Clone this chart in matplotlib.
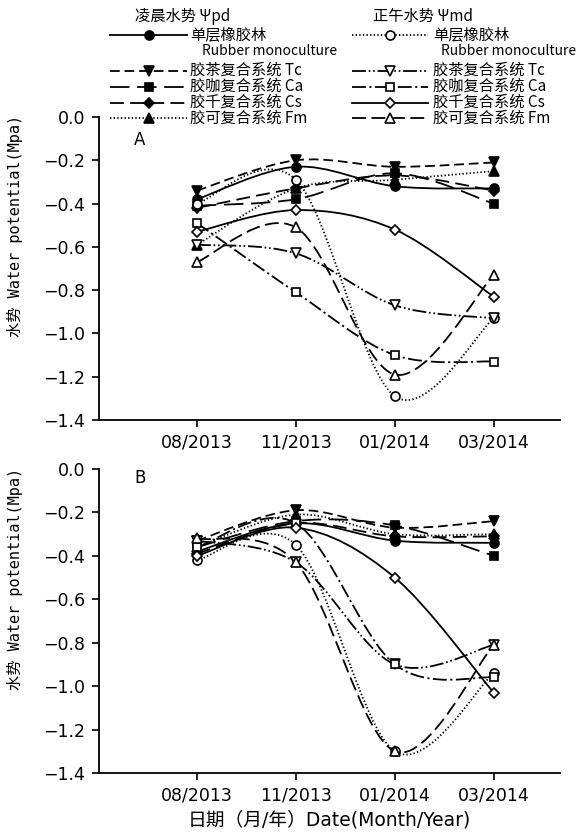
import matplotlib
matplotlib.use("Agg")
import matplotlib.pyplot as plt
from matplotlib.path import Path
from matplotlib.patches import PathPatch

plt.rcParams["lines.scale_dashes"] = False

dates = ["08/2013", "11/2013", "01/2014", "03/2014"]

# panel A, predawn (filled markers)
a_pd_mono = [-0.38, -0.23, -0.32, -0.33]
a_pd_tc = [-0.34, -0.20, -0.23, -0.21]
a_pd_ca = [-0.41, -0.38, -0.26, -0.40]
a_pd_cs = [-0.42, -0.33, -0.27, -0.34]
a_pd_fm = [-0.59, -0.33, -0.29, -0.25]
# panel A, midday (open markers)
a_md_mono = [-0.40, -0.29, -1.29, -0.93]
a_md_tc = [-0.59, -0.63, -0.87, -0.93]
a_md_ca = [-0.49, -0.81, -1.10, -1.13]
a_md_cs = [-0.53, -0.43, -0.52, -0.83]
a_md_fm = [-0.67, -0.51, -1.19, -0.73]

# panel B, predawn
b_pd_mono = [-0.38, -0.25, -0.33, -0.34]
b_pd_tc = [-0.33, -0.19, -0.27, -0.24]
b_pd_ca = [-0.36, -0.24, -0.26, -0.40]
b_pd_cs = [-0.39, -0.25, -0.31, -0.31]
b_pd_fm = [-0.36, -0.21, -0.30, -0.30]
# panel B, midday
b_md_mono = [-0.42, -0.35, -1.30, -0.94]
b_md_tc = [-0.33, -0.43, -0.90, -0.81]
b_md_ca = [-0.36, -0.25, -0.90, -0.96]
b_md_cs = [-0.40, -0.27, -0.50, -1.03]
b_md_fm = [-0.32, -0.43, -1.30, -0.81]

# line style and marker for each series: (linestyle, marker, filled)
styles = {
    "pd_mono": ("-", "o", True),
    "pd_tc": ((0, (7, 3.5)), "v", True),
    "pd_ca": ((0, (14, 5.5)), "s", True),
    "pd_cs": ((0, (10, 4.5)), "D", True),
    "pd_fm": ((0, (1, 1.6)), "^", True),
    "md_mono": ((0, (1, 1.6)), "o", False),
    "md_tc": ((0, (10, 2, 1.2, 2, 1.2, 2)), "v", False),
    "md_ca": ((0, (10, 2.5, 1.5, 2.5)), "s", False),
    "md_cs": ("-", "D", False),
    "md_fm": ((0, (10, 4)), "^", False),
}
msize = {"o": 6.5, "v": 6.5, "^": 6.5, "s": 5.5, "D": 5.0}

labels_cn = ["单层橡胶林", "胶茶复合系统 Tc", "胶咖复合系统 Ca", "胶千复合系统 Cs", "胶可复合系统 Fm"]
keys = ["mono", "tc", "ca", "cs", "fm"]

panel_a = {
    "pd_mono": a_pd_mono, "pd_tc": a_pd_tc, "pd_ca": a_pd_ca, "pd_cs": a_pd_cs, "pd_fm": a_pd_fm,
    "md_mono": a_md_mono, "md_tc": a_md_tc, "md_ca": a_md_ca, "md_cs": a_md_cs, "md_fm": a_md_fm,
}
panel_b = {
    "pd_mono": b_pd_mono, "pd_tc": b_pd_tc, "pd_ca": b_pd_ca, "pd_cs": b_pd_cs, "pd_fm": b_pd_fm,
    "md_mono": b_md_mono, "md_tc": b_md_tc, "md_ca": b_md_ca, "md_cs": b_md_cs, "md_fm": b_md_fm,
}

LW = 1.3
CJK = ["DejaVu Sans", "Noto Sans CJK SC"]
MONO = ["DejaVu Sans Mono", "Noto Sans CJK SC"]


def smooth_path(xs, ys):
    # Catmull-Rom style bezier, like a spreadsheet "smoothed line"
    pts = list(zip(xs, ys))
    n = len(pts)
    verts = [pts[0]]
    codes = [Path.MOVETO]
    for i in range(n - 1):
        p0 = pts[max(i - 1, 0)]
        p1 = pts[i]
        p2 = pts[i + 1]
        p3 = pts[min(i + 2, n - 1)]
        c1 = (p1[0] + (p2[0] - p0[0]) / 6, p1[1] + (p2[1] - p0[1]) / 6)
        c2 = (p2[0] - (p3[0] - p1[0]) / 6, p2[1] - (p3[1] - p1[1]) / 6)
        verts += [c1, c2, p2]
        codes += [Path.CURVE4] * 3
    return Path(verts, codes)


def draw_panel(ax, data, letter, letter_y):
    x = list(range(len(dates)))
    for name, vals in data.items():
        ls, mk, filled = styles[name]
        ax.add_patch(PathPatch(smooth_path(x, vals), fill=False, lw=LW,
                               ls=ls, edgecolor="black", zorder=2))
    for name, vals in data.items():
        ls, mk, filled = styles[name]
        ax.plot(x, vals, ls="none", marker=mk, ms=msize[mk], mew=1.2,
                mec="black", mfc="black" if filled else "white", zorder=3)
    ax.set_xlim(-0.99, 3.67)
    ax.set_ylim(-1.4, 0)
    ax.set_xticks(x)
    ax.set_xticklabels(dates)
    ax.set_yticks([0, -0.2, -0.4, -0.6, -0.8, -1.0, -1.2, -1.4])
    ax.set_yticklabels(["0.0", "\u22120.2", "\u22120.4", "\u22120.6", "\u22120.8",
                        "\u22121.0", "\u22121.2", "\u22121.4"])
    ax.spines["top"].set_visible(False)
    ax.spines["right"].set_visible(False)
    ax.spines["left"].set_linewidth(1.3)
    ax.spines["bottom"].set_linewidth(1.3)
    ax.tick_params(direction="out", length=5, width=1.2, labelsize=12.5, pad=5)
    ax.set_ylabel("水势 Water potential(Mpa)", family=MONO, fontsize=11)
    ax.yaxis.set_label_coords(-0.165, 0.64)
    ax.text(0.088, letter_y, letter, transform=ax.transAxes, fontsize=12,
            ha="center", va="center")


fig = plt.figure(figsize=(5.85, 8.34), dpi=100)
ax_a = fig.add_axes([99 / 585, 1 - 420 / 834, 461 / 585, 303 / 834])
ax_b = fig.add_axes([99 / 585, 1 - 773 / 834, 461 / 585, 304 / 834])
draw_panel(ax_a, panel_a, "A", 0.924)
draw_panel(ax_b, panel_b, "B", 0.97)
ax_b.set_xlabel("日期（月/年）Date(Month/Year)", family=CJK, fontsize=13.5, labelpad=4)

# legend drawn in pixel space on an overlay axes
lax = fig.add_axes([0, 0, 1, 1], zorder=5)
lax.set_xlim(0, 585)
lax.set_ylim(834, 0)
lax.axis("off")
lax.patch.set_alpha(0)

leg_font = dict(family=["Noto Sans CJK SC", "DejaVu Sans"], fontsize=11, va="center")
row_y = [35, 70.5, 86.5, 102.5, 118]
cols = [("pd", 110, 187, 190, 202, 135, "凌晨水势 Ψpd"),
        ("md", 352, 428, 433, 441, 373, "正午水势 Ψmd")]
for prefix, hx0, hx1, tx, rx, headx, head in cols:
    lax.text(headx, 16, head, **leg_font)
    for key, lab, yy in zip(keys, labels_cn, row_y):
        ls, mk, filled = styles[prefix + "_" + key]
        lax.plot([hx0, hx1], [yy, yy], color="black", lw=LW, ls=ls)
        lax.plot([(hx0 + hx1) / 2], [yy], ls="none", marker=mk, ms=msize[mk],
                 mew=1.2, mec="black", mfc="black" if filled else "white")
        lax.text(tx, yy, lab, **leg_font)
    lax.text(rx, 51, "Rubber monoculture", family=["Noto Sans CJK SC", "DejaVu Sans"],
             fontsize=10, va="center")

fig.savefig("out.png", dpi=100)
